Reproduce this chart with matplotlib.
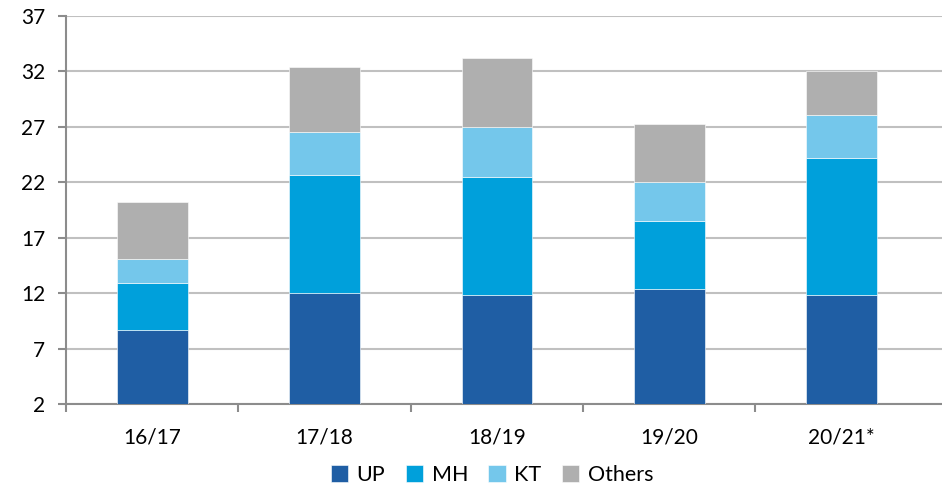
import matplotlib.pyplot as plt
import numpy as np

plt.rcParams['font.family'] = ['Lato', 'DejaVu Sans']

# production by state, per season
seasons = ['16/17', '17/18', '18/19', '19/20', '20/21*']
up = [8.7, 12.0, 11.8, 12.4, 11.8]
mh = [4.2, 10.7, 10.7, 6.1, 12.4]
kt = [2.2, 3.8, 4.5, 3.5, 3.9]
others = [5.1, 5.9, 6.2, 5.3, 3.9]

series = [('UP', up, '#1f5ea4'), ('MH', mh, '#00a0db'),
          ('KT', kt, '#74c7eb'), ('Others', others, '#afafaf')]

fig = plt.figure(figsize=(9.42, 4.87), dpi=100)
ax = fig.add_axes([66 / 942, 1 - 404 / 487, 1 - 66 / 942, 388 / 487])

x = np.arange(len(seasons))
bottom = np.zeros(len(seasons))
for name, vals, col in series:
    ax.bar(x, vals, width=0.41, bottom=bottom, color=col, label=name,
           edgecolor='white', linewidth=0.4, zorder=3)
    bottom += np.array(vals)

ax.set_ylim(2, 37)
ax.set_yticks(range(2, 38, 5))
ax.set_xlim(-0.5, -0.5 + 876 / 172.35)
ax.set_xticks(x)
ax.set_xticklabels(seasons)
# category boundary ticks, the last one falls outside the drawn area
ax.set_xticks(np.arange(-0.5, 4, 1), minor=True)

ax.grid(axis='y', color='#c0c0c0', linewidth=1.5, zorder=0)
for s in ['top', 'right']:
    ax.spines[s].set_visible(False)
for s in ['left', 'bottom']:
    ax.spines[s].set_color('#8c8c8c')
    ax.spines[s].set_linewidth(1.5)

ax.tick_params(axis='y', length=6, width=1.5, color='#8c8c8c', pad=9, labelsize=15)
ax.tick_params(axis='x', which='major', length=0, pad=17, labelsize=15)
ax.tick_params(axis='x', which='minor', length=6, width=1.5, color='#8c8c8c')

fig.legend(loc='center', bbox_to_anchor=(492 / 942, 1 - 475 / 487), ncol=4, frameon=False,
           fontsize=15.5, handlelength=0.8, handleheight=0.8, handletextpad=0.4,
           columnspacing=0.95)

fig.savefig('out.png', dpi=100)
